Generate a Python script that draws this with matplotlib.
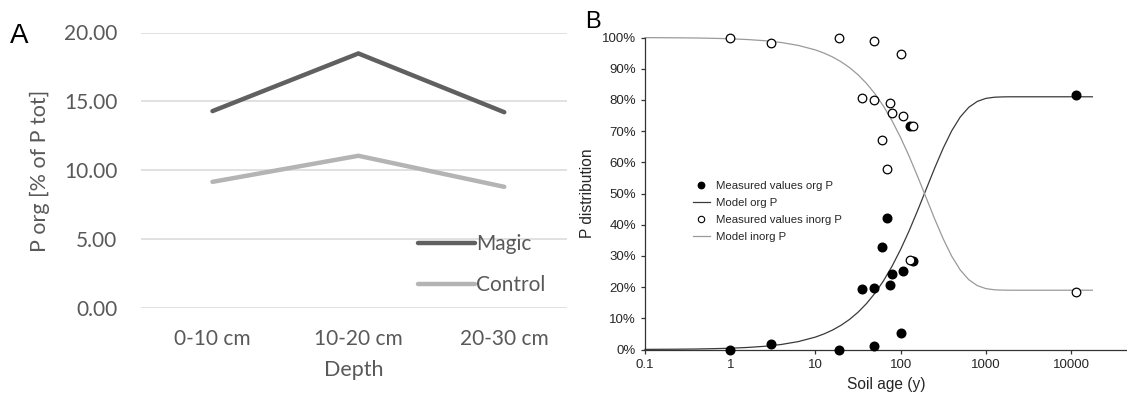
import matplotlib
matplotlib.use("Agg")
import matplotlib.pyplot as plt
from matplotlib.lines import Line2D

# ---- Panel A: organic P share by depth ----
depths = ["0-10 cm", "10-20 cm", "20-30 cm"]
magic = [14.30, 18.48, 14.22]
control = [9.17, 11.06, 8.81]
a_yticks = [0, 5, 10, 15, 20]

# ---- Panel B: P distribution along the soil chronosequence ----
soil_age = [1, 3.0, 19, 48.7, 100, 35.2, 49.2, 74.5, 79.3, 107.7, 60, 69.9, 129, 141, 11460]
org_measured = [0.0, 1.9, 0.0, 1.2, 5.3, 19.5, 19.8, 20.8, 24.3, 25.2, 32.8, 42.3, 71.6, 28.4, 81.7]
inorg_measured = [100, 98.2, 100, 98.9, 94.7, 80.5, 80.1, 79.1, 75.7, 74.8, 67.3, 57.7, 28.6, 71.7, 18.3]

model_age = [0.1, 0.158, 0.251, 0.398, 0.631, 1.0, 1.585, 2.512, 3.981, 6.31,
             10, 12.59, 15.85, 19.95, 25.12, 31.62, 39.81, 50.12, 63.1, 79.43,
             100, 125.9, 158.5, 199.5, 251.2, 316.2, 398.1, 501.2, 631, 794.3,
             1000, 1259, 1585, 1995, 3162, 6310, 10000, 17800]
model_org = [0.04, 0.07, 0.10, 0.16, 0.26, 0.41, 0.65, 1.02, 1.61, 2.54,
             3.98, 4.98, 6.22, 7.75, 9.63, 11.93, 14.73, 18.08, 22.06, 26.72,
             32.07, 38.05, 44.57, 51.36, 58.17, 64.54, 70.11, 74.52, 77.63, 79.52,
             80.48, 80.86, 80.97, 81.0, 81.0, 81.0, 81.0, 81.0]
model_inorg = [99.96, 99.93, 99.90, 99.84, 99.74, 99.59, 99.35, 98.98, 98.39, 97.46,
               96.02, 95.02, 93.78, 92.25, 90.37, 88.07, 85.27, 81.92, 77.94, 73.28,
               67.93, 61.95, 55.43, 48.64, 41.83, 35.46, 29.89, 25.48, 22.37, 20.48,
               19.52, 19.14, 19.03, 19.0, 19.0, 19.0, 19.0, 19.0]
b_xticks = [0.1, 1, 10, 100, 1000, 10000]
b_xticklabels = ["0.1", "1", "10", "100", "1000", "10000"]
b_yticks = [0, 10, 20, 30, 40, 50, 60, 70, 80, 90, 100]

W, H = 1127, 401
fig = plt.figure(figsize=(W / 100, H / 100), dpi=100)


def box(left, top, right, bottom):
    return [left / W, (H - bottom) / H, (right - left) / W, (bottom - top) / H]


# ---------------- Panel A ----------------
GREY_TXT = "#595959"
fontA = ["Lato", "DejaVu Sans"]
axA = fig.add_axes(box(141, 32.5, 567, 308.3))
xs = list(range(len(depths)))
axA.plot(xs, magic, color="#606060", lw=3.2, solid_capstyle="round",
         solid_joinstyle="miter", label="Magic", clip_on=False, zorder=3)
axA.plot(xs, control, color="#b4b4b4", lw=3.2, solid_capstyle="round",
         solid_joinstyle="miter", label="Control", clip_on=False, zorder=3)
axA.set_xlim(-0.49, 2.43)
axA.set_ylim(0, 20)
axA.set_xticks(xs)
axA.set_xticklabels(depths, family=fontA)
axA.set_yticks(a_yticks)
axA.set_yticklabels([f"{v:.2f}" for v in a_yticks], family=fontA)
axA.yaxis.grid(True, color="#d9d9d9", lw=1.1)
axA.set_axisbelow(True)
for s in axA.spines.values():
    s.set_visible(False)
axA.tick_params(axis="both", length=0, labelsize=15, labelcolor=GREY_TXT)
axA.tick_params(axis="x", pad=15)
axA.tick_params(axis="y", pad=17)
axA.set_xlabel("Depth", family=fontA, fontsize=15.5, color=GREY_TXT, labelpad=8)
axA.set_ylabel("P org [% of P tot]", family=fontA, fontsize=15.5, color=GREY_TXT, labelpad=10)
legA = axA.legend(loc="center left", bbox_to_anchor=(418 / W, (H - 264.7) / H),
                  bbox_transform=fig.transFigure, frameon=False, borderpad=0,
                  borderaxespad=0, handlelength=2.75, handletextpad=0.05,
                  labelspacing=1.0, prop={"family": fontA, "size": 15})
for t in legA.get_texts():
    t.set_color(GREY_TXT)
fig.text(19 / W, (H - 36) / H, "A", family=["Liberation Sans"], fontsize=20,
         ha="center", va="center", color="black")

# ---------------- Panel B ----------------
fontB = ["Liberation Sans", "DejaVu Sans"]
TXT_B = "#262626"
axB = fig.add_axes(box(645, 37.5, 1127, 349.5))
axB.set_xscale("log")
axB.set_xlim(0.1, 10 ** 4.657)
axB.set_ylim(0, 100)
axB.plot(model_age, model_org, color="#3a3a3a", lw=0.9, clip_on=False, zorder=2)
axB.plot(model_age, model_inorg, color="#9a9a9a", lw=0.9, clip_on=False, zorder=2)
axB.plot(soil_age, org_measured, linestyle="none", marker="o", ms=6.2,
         mfc="black", mec="black", clip_on=False, zorder=3)
axB.plot(soil_age, inorg_measured, linestyle="none", marker="o", ms=6.2,
         mfc="white", mec="black", mew=0.9, clip_on=False, zorder=4)
axB.set_xticks(b_xticks)
axB.set_xticklabels(b_xticklabels, family=fontB)
axB.xaxis.set_minor_locator(matplotlib.ticker.NullLocator())
axB.set_yticks(b_yticks)
axB.set_yticklabels([f"{v}%" for v in b_yticks], family=fontB)
for side in ("top", "right"):
    axB.spines[side].set_visible(False)
for side in ("left", "bottom"):
    axB.spines[side].set_color("#333333")
    axB.spines[side].set_linewidth(0.9)
axB.tick_params(axis="both", direction="out", length=3, width=0.9, color="#333333",
                labelsize=9.5, labelcolor=TXT_B)
axB.tick_params(axis="x", pad=4)
axB.tick_params(axis="y", pad=3.5)
axB.set_xlabel("Soil age (y)", family=fontB, fontsize=11.2, color=TXT_B, labelpad=4)
axB.set_ylabel("P distribution", family=fontB, fontsize=11.2, color=TXT_B, labelpad=5)

handles = [
    Line2D([], [], linestyle="none", marker="o", ms=4.6, mfc="black", mec="black"),
    Line2D([], [], color="#3a3a3a", lw=0.9),
    Line2D([], [], linestyle="none", marker="o", ms=4.6, mfc="white", mec="black", mew=0.8),
    Line2D([], [], color="#9a9a9a", lw=0.9),
]
labels = ["Measured values org P", "Model org P", "Measured values inorg P", "Model inorg P"]
legB = axB.legend(handles, labels, loc="upper left",
                  bbox_to_anchor=(693 / W, (H - 181) / H), bbox_transform=fig.transFigure,
                  frameon=False, borderpad=0, borderaxespad=0, handlelength=1.45,
                  handletextpad=0.55, labelspacing=0.62,
                  prop={"family": fontB, "size": 8.2})
for t in legB.get_texts():
    t.set_color(TXT_B)
fig.text(593 / W, (H - 21.7) / H, "B", family=fontB, fontsize=17,
         ha="center", va="center", color="black")

fig.savefig("out.png", dpi=100)
